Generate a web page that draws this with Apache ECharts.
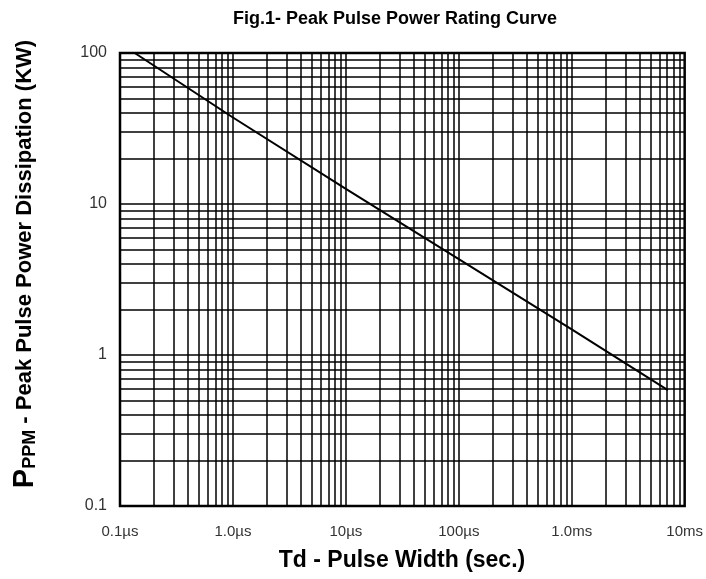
<!DOCTYPE html>
<html>
<head>
<meta charset="utf-8">
<script src="https://cdn.jsdelivr.net/npm/echarts@6/dist/echarts.min.js"></script>
<style>html,body{margin:0;padding:0;background:#fff;}#c{width:706px;height:579px;}</style>
</head>
<body>
<div id="c"></div>
<script>
// Data (x in microseconds, y in KW)
var pulseWidthUs = [0.135, 1, 10, 100, 1000, 7100];
var peakPowerKW = [100, 37.4, 12.6, 4.32, 1.48, 0.586];
var xTickValues = [0.1, 1, 10, 100, 1000, 10000];
var xTickLabels = ['0.1µs', '1.0µs', '10µs', '100µs', '1.0ms', '10ms'];
var yTickValues = [0.1, 1, 10, 100];
var yTickLabels = ['0.1', '1', '10', '100'];
var gridMultipliers = [1, 2, 3, 4, 5, 6, 7, 8, 9];

var lineData = pulseWidthUs.map(function (x, i) { return [x, peakPowerKW[i]]; });

var gridLines = [];
[0.1, 1, 10, 100, 1000].forEach(function (d) {
  gridMultipliers.forEach(function (m) {
    var v = +(d * m).toPrecision(6);
    if (v > 0.1) gridLines.push({ xAxis: v });
  });
});
[0.1, 1, 10].forEach(function (d) {
  gridMultipliers.forEach(function (m) {
    var v = +(d * m).toPrecision(6);
    if (v > 0.1) gridLines.push({ yAxis: v });
  });
});

var FONT = 'Liberation Sans, Arial, sans-serif';
var chart = echarts.init(document.getElementById('c'));
chart.setOption({
  animation: false,
  backgroundColor: '#fff',
  title: {
    text: 'Fig.1- Peak Pulse Power Rating Curve',
    left: 390, top: 5, textAlign: 'center',
    textStyle: { fontFamily: FONT, fontSize: 18, fontWeight: 'bold', color: '#000' }
  },
  grid: { left: 120, top: 53, right: 19, bottom: 73, show: true, borderColor: '#000', borderWidth: 2.5, backgroundColor: 'transparent' },
  xAxis: {
    type: 'log', logBase: 10, min: 0.1, max: 10000,
    axisLine: { show: false }, axisTick: { show: false }, splitLine: { show: false },
    axisLabel: {
      customValues: xTickValues,
      margin: 18, color: '#333', fontFamily: FONT, fontSize: 15,
      formatter: function (v) {
        for (var i = 0; i < xTickValues.length; i++) if (Math.abs(Math.log10(v) - Math.log10(xTickValues[i])) < 1e-6) return xTickLabels[i];
        return '';
      }
    }
  },
  yAxis: {
    type: 'log', logBase: 10, min: 0.1, max: 100,
    axisLine: { show: false }, axisTick: { show: false }, splitLine: { show: false },
    axisLabel: {
      customValues: yTickValues,
      margin: 13, color: '#333', fontFamily: FONT, fontSize: 16,
      formatter: function (v) {
        for (var i = 0; i < yTickValues.length; i++) if (Math.abs(Math.log10(v) - Math.log10(yTickValues[i])) < 1e-6) return yTickLabels[i];
        return '';
      }
    }
  },
  graphic: [
    {
      type: 'text', x: 25, y: 264, rotation: Math.PI / 2,
      style: {
        text: '{big|P}{sub|PPM}{n| - Peak Pulse Power Dissipation (KW)}',
        align: 'center', verticalAlign: 'middle',
        fontFamily: FONT, fill: '#000',
        rich: {
          big: { fontSize: 29, fontWeight: 'bold', fontFamily: FONT, fill: '#000', verticalAlign: 'bottom' },
          sub: { fontSize: 18, fontWeight: 'bold', fontFamily: FONT, fill: '#000', verticalAlign: 'bottom' },
          n: { fontSize: 22, fontWeight: 'bold', fontFamily: FONT, fill: '#000' }
        }
      }
    },
    {
      type: 'text', x: 402, y: 561,
      style: {
        text: 'Td - Pulse Width (sec.)', align: 'center', verticalAlign: 'middle',
        fontFamily: FONT, fontSize: 23, fontWeight: 'bold', fill: '#000'
      }
    }
  ],
  series: [
    {
      type: 'line', data: [], silent: true,
      markLine: {
        silent: true, symbol: ['none', 'none'], animation: false,
        label: { show: false },
        lineStyle: { color: '#000', width: 1.5, type: 'solid' },
        emphasis: { disabled: true },
        data: gridLines
      }
    },
    {
      type: 'line', data: lineData, showSymbol: false, symbol: 'none',
      lineStyle: { color: '#000', width: 2 }, z: 5
    }
  ]
});
</script>
</body>
</html>
